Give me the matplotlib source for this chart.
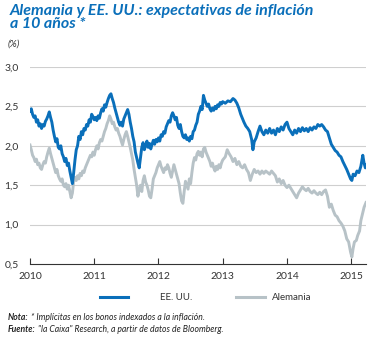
import matplotlib
matplotlib.use("Agg")
import matplotlib.pyplot as plt
from matplotlib.lines import Line2D

plt.rcParams['font.family'] = ['Lato', 'DejaVu Sans']

BLUE = '#0a6fba'
GRAY = '#b7c2c7'
TXT = '#333333'

# EE. UU. (decimal years, %)
us_t = [
    2010.00, 2010.02, 2010.04, 2010.06, 2010.08, 2010.10, 2010.12, 2010.14, 2010.16, 2010.18,
    2010.20, 2010.22, 2010.24, 2010.26, 2010.28, 2010.30, 2010.32, 2010.34, 2010.36, 2010.38,
    2010.40, 2010.42, 2010.44, 2010.46, 2010.48, 2010.50, 2010.52, 2010.54, 2010.56, 2010.58,
    2010.60, 2010.62, 2010.64, 2010.66, 2010.68, 2010.70, 2010.72, 2010.74, 2010.76, 2010.78,
    2010.80, 2010.82, 2010.84, 2010.86, 2010.88, 2010.90, 2010.92, 2010.94, 2010.96, 2010.98,
    2011.00, 2011.02, 2011.04, 2011.06, 2011.08, 2011.10, 2011.12, 2011.14, 2011.16, 2011.18,
    2011.20, 2011.22, 2011.24, 2011.26, 2011.28, 2011.30, 2011.32, 2011.34, 2011.36, 2011.38,
    2011.40, 2011.42, 2011.44, 2011.46, 2011.48, 2011.50, 2011.52, 2011.54, 2011.56, 2011.58,
    2011.60, 2011.62, 2011.64, 2011.66, 2011.68, 2011.70, 2011.72, 2011.74, 2011.76, 2011.78,
    2011.80, 2011.82, 2011.84, 2011.86, 2011.88, 2011.90, 2011.92, 2011.94, 2011.96, 2011.98,
    2012.00, 2012.02, 2012.04, 2012.06, 2012.08, 2012.10, 2012.12, 2012.14, 2012.16, 2012.18,
    2012.20, 2012.22, 2012.24, 2012.26, 2012.28, 2012.30, 2012.32, 2012.34, 2012.36, 2012.38,
    2012.40, 2012.42, 2012.44, 2012.46, 2012.48, 2012.50, 2012.52, 2012.54, 2012.56, 2012.58,
    2012.60, 2012.62, 2012.64, 2012.66, 2012.68, 2012.70, 2012.72, 2012.74, 2012.76, 2012.78,
    2012.80, 2012.82, 2012.84, 2012.86, 2012.88, 2012.90, 2012.92, 2012.94, 2012.96, 2012.98,
    2013.00, 2013.04, 2013.08, 2013.12, 2013.16, 2013.19, 2013.22, 2013.25, 2013.28, 2013.30,
    2013.33, 2013.36, 2013.39, 2013.42, 2013.45, 2013.47, 2013.49, 2013.52, 2013.55, 2013.58,
    2013.61, 2013.64, 2013.67, 2013.70, 2013.73, 2013.76, 2013.79, 2013.82, 2013.85, 2013.88,
    2013.91, 2013.94, 2013.97, 2014.00, 2014.03, 2014.06, 2014.09, 2014.12, 2014.15, 2014.18,
    2014.21, 2014.24, 2014.27, 2014.30, 2014.33, 2014.36, 2014.39, 2014.42, 2014.45, 2014.48,
    2014.51, 2014.54, 2014.57, 2014.60, 2014.63, 2014.66, 2014.69, 2014.72, 2014.75, 2014.78,
    2014.81, 2014.84, 2014.87, 2014.90, 2014.93, 2014.96, 2014.99, 2015.01, 2015.03, 2015.06,
    2015.09, 2015.12, 2015.15, 2015.18, 2015.20, 2015.22, 2015.23,
]
us_v = [
    2.44, 2.47, 2.40, 2.36, 2.38, 2.30, 2.33, 2.25, 2.28, 2.22,
    2.27, 2.25, 2.31, 2.34, 2.38, 2.43, 2.36, 2.30, 2.20, 2.12,
    2.05, 2.09, 1.98, 1.96, 2.00, 1.90, 1.86, 1.80, 1.84, 1.75,
    1.78, 1.68, 1.60, 1.52, 1.66, 1.82, 1.95, 2.00, 2.12, 2.08,
    2.18, 2.14, 2.22, 2.20, 2.27, 2.25, 2.33, 2.30, 2.40, 2.37,
    2.33, 2.36, 2.32, 2.38, 2.35, 2.42, 2.47, 2.44, 2.52, 2.49,
    2.55, 2.60, 2.64, 2.66, 2.60, 2.55, 2.48, 2.42, 2.36, 2.30,
    2.26, 2.30, 2.25, 2.34, 2.38, 2.42, 2.46, 2.40, 2.30, 2.22,
    2.12, 2.05, 1.92, 1.85, 1.78, 1.72, 1.85, 1.98, 2.04, 1.95,
    2.00, 2.06, 1.98, 2.03, 1.96, 2.02, 2.07, 2.02, 2.08, 2.05,
    2.10, 2.06, 2.14, 2.12, 2.18, 2.16, 2.24, 2.28, 2.32, 2.30,
    2.38, 2.42, 2.38, 2.33, 2.36, 2.26, 2.22, 2.27, 2.18, 2.12,
    2.10, 2.14, 2.08, 2.10, 2.06, 2.12, 2.09, 2.18, 2.20, 2.26,
    2.30, 2.40, 2.44, 2.50, 2.46, 2.64, 2.58, 2.54, 2.50, 2.53,
    2.47, 2.44, 2.48, 2.45, 2.50, 2.47, 2.52, 2.50, 2.55, 2.53,
    2.56, 2.54, 2.57, 2.56, 2.60, 2.58, 2.54, 2.48, 2.40, 2.36,
    2.30, 2.25, 2.22, 2.18, 2.08, 1.95, 2.05, 2.10, 2.18, 2.25,
    2.18, 2.14, 2.20, 2.16, 2.22, 2.16, 2.20, 2.14, 2.22, 2.18,
    2.24, 2.20, 2.27, 2.30, 2.22, 2.18, 2.14, 2.20, 2.16, 2.22,
    2.18, 2.23, 2.19, 2.22, 2.18, 2.23, 2.20, 2.24, 2.22, 2.27,
    2.25, 2.27, 2.24, 2.20, 2.18, 2.10, 2.02, 1.98, 1.94, 1.92,
    1.88, 1.86, 1.80, 1.75, 1.70, 1.64, 1.58, 1.56, 1.64, 1.62,
    1.68, 1.66, 1.74, 1.88, 1.78, 1.72, 1.76,
]

# Alemania
de_t = [
    2010.00, 2010.02, 2010.04, 2010.06, 2010.08, 2010.10, 2010.12, 2010.14, 2010.16, 2010.18,
    2010.20, 2010.22, 2010.24, 2010.26, 2010.28, 2010.30, 2010.32, 2010.34, 2010.36, 2010.38,
    2010.40, 2010.42, 2010.44, 2010.46, 2010.48, 2010.50, 2010.52, 2010.54, 2010.56, 2010.58,
    2010.60, 2010.62, 2010.64, 2010.66, 2010.68, 2010.70, 2010.72, 2010.74, 2010.76, 2010.78,
    2010.80, 2010.82, 2010.84, 2010.86, 2010.88, 2010.90, 2010.92, 2010.94, 2010.96, 2010.98,
    2011.00, 2011.02, 2011.04, 2011.06, 2011.08, 2011.10, 2011.12, 2011.14, 2011.16, 2011.18,
    2011.20, 2011.22, 2011.24, 2011.26, 2011.28, 2011.30, 2011.32, 2011.34, 2011.36, 2011.38,
    2011.40, 2011.42, 2011.44, 2011.46, 2011.48, 2011.50, 2011.52, 2011.54, 2011.56, 2011.58,
    2011.60, 2011.62, 2011.64, 2011.66, 2011.68, 2011.70, 2011.72, 2011.74, 2011.76, 2011.78,
    2011.80, 2011.82, 2011.84, 2011.86, 2011.88, 2011.90, 2011.92, 2011.94, 2011.96, 2011.98,
    2012.00, 2012.02, 2012.04, 2012.06, 2012.08, 2012.10, 2012.12, 2012.14, 2012.16, 2012.18,
    2012.20, 2012.22, 2012.24, 2012.26, 2012.28, 2012.30, 2012.32, 2012.34, 2012.36, 2012.38,
    2012.40, 2012.42, 2012.44, 2012.46, 2012.48, 2012.50, 2012.52, 2012.54, 2012.56, 2012.58,
    2012.60, 2012.62, 2012.64, 2012.66, 2012.68, 2012.70, 2012.72, 2012.74, 2012.76, 2012.78,
    2012.80, 2012.82, 2012.84, 2012.86, 2012.88, 2012.90, 2012.92, 2012.94, 2012.96, 2012.98,
    2013.00, 2013.04, 2013.07, 2013.10, 2013.13, 2013.16, 2013.19, 2013.22, 2013.25, 2013.28,
    2013.31, 2013.34, 2013.37, 2013.40, 2013.43, 2013.46, 2013.49, 2013.52, 2013.55, 2013.58,
    2013.61, 2013.64, 2013.67, 2013.70, 2013.73, 2013.76, 2013.79, 2013.82, 2013.85, 2013.88,
    2013.91, 2013.94, 2013.97, 2014.00, 2014.03, 2014.06, 2014.09, 2014.12, 2014.15, 2014.18,
    2014.21, 2014.24, 2014.27, 2014.30, 2014.33, 2014.36, 2014.39, 2014.42, 2014.45, 2014.48,
    2014.51, 2014.54, 2014.57, 2014.60, 2014.63, 2014.66, 2014.69, 2014.72, 2014.75, 2014.78,
    2014.81, 2014.84, 2014.87, 2014.90, 2014.93, 2014.96, 2014.99, 2015.01, 2015.03, 2015.05,
    2015.08, 2015.10, 2015.13, 2015.15, 2015.18, 2015.20, 2015.23,
]
de_v = [
    2.01, 1.95, 1.88, 1.85, 1.80, 1.83, 1.76, 1.78, 1.72, 1.70,
    1.76, 1.80, 1.78, 1.86, 1.92, 1.97, 1.90, 1.84, 1.78, 1.72,
    1.66, 1.70, 1.62, 1.58, 1.55, 1.58, 1.50, 1.48, 1.52, 1.45,
    1.50, 1.42, 1.34, 1.40, 1.55, 1.60, 1.56, 1.62, 1.58, 1.65,
    1.62, 1.68, 1.66, 1.72, 1.76, 1.80, 1.84, 1.88, 1.86, 1.92,
    1.88, 1.95, 2.00, 1.96, 2.04, 2.08, 2.06, 2.12, 2.18, 2.22,
    2.28, 2.32, 2.38, 2.34, 2.28, 2.30, 2.24, 2.20, 2.22, 2.16,
    2.12, 2.06, 2.01, 2.08, 2.14, 2.18, 2.12, 2.05, 1.98, 1.90,
    1.82, 1.70, 1.60, 1.50, 1.36, 1.45, 1.50, 1.42, 1.56, 1.62,
    1.54, 1.50, 1.44, 1.36, 1.34, 1.45, 1.58, 1.62, 1.66, 1.72,
    1.76, 1.80, 1.74, 1.70, 1.66, 1.72, 1.70, 1.76, 1.72, 1.65,
    1.60, 1.68, 1.76, 1.70, 1.64, 1.58, 1.52, 1.40, 1.30, 1.27,
    1.42, 1.55, 1.50, 1.45, 1.58, 1.52, 1.66, 1.78, 1.85, 1.82,
    1.90, 1.93, 1.88, 1.92, 1.86, 1.96, 1.98, 1.92, 1.88, 1.84,
    1.80, 1.74, 1.78, 1.72, 1.68, 1.74, 1.70, 1.76, 1.72, 1.78,
    1.82, 1.86, 1.95, 1.90, 1.86, 1.80, 1.84, 1.76, 1.80, 1.74,
    1.72, 1.76, 1.70, 1.66, 1.56, 1.64, 1.70, 1.66, 1.68, 1.64,
    1.68, 1.65, 1.68, 1.66, 1.64, 1.68, 1.65, 1.62, 1.54, 1.58,
    1.52, 1.56, 1.50, 1.47, 1.50, 1.46, 1.42, 1.38, 1.34, 1.40,
    1.44, 1.48, 1.45, 1.43, 1.46, 1.42, 1.40, 1.43, 1.40, 1.38,
    1.41, 1.38, 1.42, 1.44, 1.36, 1.22, 1.26, 1.18, 1.12, 1.10,
    1.05, 1.02, 0.98, 0.92, 0.82, 0.78, 0.65, 0.59, 0.70, 0.78,
    0.80, 0.86, 0.92, 1.05, 1.15, 1.22, 1.28,
]

years = [2010, 2011, 2012, 2013, 2014, 2015]
y_ticks = [0.5, 1.0, 1.5, 2.0, 2.5, 3.0]
y_labels = ['0,5', '1,0', '1,5', '2,0', '2,5', '3,0']

W, H = 380, 338
fig = plt.figure(figsize=(3.8, 3.38), dpi=100)
ax = fig.add_axes([30 / W, 74 / H, 336 / W, 197 / H])

ax.plot(de_t, de_v, color=GRAY, lw=2.1, solid_joinstyle='round')
ax.plot(us_t, us_v, color=BLUE, lw=2.1, solid_joinstyle='round')

ax.set_xlim(2010, 2015.23)
ax.set_ylim(0.5, 3.0)
ax.set_yticks(y_ticks)
ax.set_yticklabels(y_labels)
ax.set_xticks(years)
ax.set_xticklabels([str(y) for y in years])
for y in y_ticks[1:]:
    ax.axhline(y, color='#cfcfcf', lw=0.8, zorder=0)

for s in ['top', 'right', 'left']:
    ax.spines[s].set_visible(False)
ax.spines['bottom'].set_color('#333333')
ax.spines['bottom'].set_linewidth(0.8)
ax.tick_params(axis='y', length=0, pad=8, labelsize=7.5, labelcolor=TXT)
ax.tick_params(axis='x', direction='in', length=4, width=0.8, color='#333333',
               pad=6, labelsize=7.5, labelcolor=TXT)

# title and unit
fig.text(10 / W, 1 - 4 / H, 'Alemania y EE. UU.: expectativas de inflación\na 10 años *',
         color=BLUE, fontsize=11.5, fontweight='bold', fontstyle='italic',
         va='top', ha='left', linespacing=0.95)
fig.text(8 / W, 1 - 44 / H, '(%)', color=TXT, fontsize=7, fontstyle='italic',
         va='center', ha='left')

# legend drawn by hand so the spacing matches
ly = 1 - 297 / H
fig.add_artist(Line2D([100 / W, 128 / W], [ly, ly], color=BLUE, lw=2.2))
fig.text(160 / W, ly, 'EE. UU.', fontsize=7, color=TXT, va='center', ha='left')
fig.add_artist(Line2D([236 / W, 265 / W], [ly, ly], color=GRAY, lw=2.2))
fig.text(272 / W, ly, 'Alemania', fontsize=7, color=TXT, va='center', ha='left')

# notes with bold-italic lead words
renderer = fig.canvas.get_renderer()
notes = [('Nota:', ' * Implícitas en los bonos indexados a la inflación.', 317),
         ('Fuente:', ' "la Caixa" Research, a partir de datos de Bloomberg.', 329)]
for lead, rest, ypix in notes:
    t = fig.text(8 / W, 1 - ypix / H, lead, fontsize=6.2, fontweight='bold',
                 fontstyle='italic', color='#222222', va='center', ha='left')
    bb = t.get_window_extent(renderer=renderer)
    fig.text(bb.x1 / fig.bbox.width, 1 - ypix / H, rest, fontsize=6.2,
             fontstyle='italic', color='#222222', va='center', ha='left')

fig.savefig('out.png', dpi=100, facecolor='white')
